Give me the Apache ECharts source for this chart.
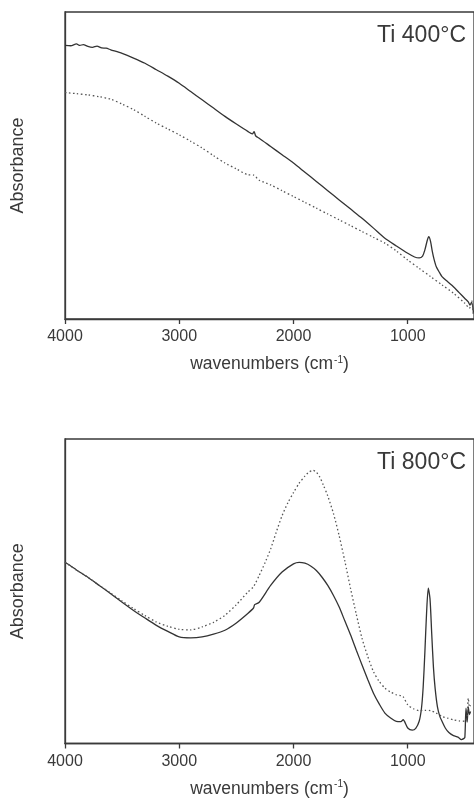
<!DOCTYPE html>
<html><head><meta charset="utf-8">
<script src="https://cdn.jsdelivr.net/npm/echarts@6/dist/echarts.min.js"></script>
<style>html,body{margin:0;padding:0;background:#fff}#c{width:474px;height:799px}</style>
</head><body><div id="c"></div>
<script>
// Top panel (Ti 400°C)
const topSolidWn = [4000,3950,3900,3870,3840,3800,3760,3720,3680,3640,3600,3500,3400,3300,3200,3100,3000,2900,2800,2700,2600,2500,2400,2360,2345,2330,2300,2200,2100,2000,1900,1800,1700,1600,1500,1400,1300,1200,1100,1000,940,900,870,850,830,816,800,785,770,750,720,700,650,600,550,500,470,455,440,425];
const topSolidVal = [89.1,89.0,89.6,89.1,89.4,88.8,88.5,88.9,88.3,88.2,87.7,86.5,85.0,83.3,81.2,79.1,76.8,74.1,71.4,68.7,66.0,63.5,61.1,60.3,61.0,59.6,58.9,56.2,53.5,50.8,47.8,44.8,41.8,38.8,35.8,32.8,29.6,26.3,23.8,21.4,20.2,19.9,20.5,22.5,25.5,26.8,25.2,22.0,19.5,17.0,15.0,13.8,12.1,10.5,8.6,6.7,5.6,4.5,5.5,2.0];
const topDotWn = [4000,3900,3800,3700,3600,3500,3400,3300,3200,3100,3000,2900,2800,2700,2600,2500,2400,2350,2300,2200,2100,2000,1900,1800,1700,1600,1500,1400,1300,1200,1100,1000,900,800,700,600,500,460,440,425];
const topDotVal = [73.8,73.4,73.0,72.4,71.6,70.0,68.2,66.0,63.8,61.9,60.0,57.9,55.7,53.2,50.8,48.9,47.0,46.9,45.2,43.7,41.8,39.9,38.0,36.1,34.2,32.3,30.4,28.5,26.6,24.7,22.2,19.2,16.5,13.8,11.1,8.4,5.1,3.5,6.0,1.0];

// Bottom panel (Ti 800°C)
const botSolidWn = [4000,3950,3900,3800,3700,3600,3500,3400,3300,3200,3100,3000,2900,2800,2700,2600,2500,2400,2350,2340,2300,2200,2100,2000,1950,1900,1850,1800,1750,1700,1650,1600,1550,1500,1450,1400,1350,1300,1250,1200,1150,1100,1060,1040,1000,960,930,900,880,865,850,835,820,805,790,775,760,740,720,700,670,640,600,560,530,510,500,490,480,470,460,450];
const botSolidVal = [59.5,58.3,57.0,54.6,51.9,49.2,46.4,43.7,41.2,38.8,36.8,35.0,34.7,35.0,35.9,37.2,39.6,42.7,44.5,45.6,46.4,51.9,56.3,59.0,59.5,59.2,58.3,56.8,54.6,51.9,48.6,44.8,40.2,35.6,30.6,25.8,21.0,16.5,13.0,10.0,8.4,7.3,7.2,7.8,5.1,4.4,5.0,7.3,11.5,18.5,30.0,43.0,51.0,47.5,36.0,25.0,18.0,12.0,9.0,7.3,5.0,3.6,2.6,2.1,1.3,1.6,2.0,11.6,7.0,12.0,9.5,10.5];
const botDotWn = [4000,3900,3800,3700,3600,3500,3400,3300,3200,3100,3000,2900,2800,2700,2600,2500,2400,2350,2300,2250,2200,2150,2100,2050,2000,1950,1900,1870,1830,1800,1770,1740,1700,1650,1600,1550,1500,1450,1400,1350,1300,1250,1200,1150,1100,1060,1040,1000,950,900,850,800,750,700,650,600,550,500,480,470,460,450];
const botDotVal = [59.5,57.0,54.6,51.9,49.4,46.8,44.3,42.0,39.9,38.5,37.5,37.3,38.3,39.8,42.1,45.6,49.7,51.5,55.2,59.3,63.9,69.5,74.8,79.0,82.4,85.5,87.8,89.0,89.7,89.1,87.5,85.0,81.3,75.5,68.2,59.8,50.8,42.4,34.5,28.6,23.6,20.4,18.2,16.9,16.0,15.7,15.4,12.7,11.4,10.8,10.9,10.8,10.0,8.9,8.3,7.8,7.4,7.3,9.0,14.9,12.0,12.5];

const ticks = [1000,2000,3000,4000];
const xTitle = 'wavenumbers (cm{sup|-1})';
const yTitle = 'Absorbance';
const panelTitles = ['Ti 400°C','Ti 800°C'];

const FONT = 'Liberation Sans, Arial, sans-serif';
const INK = '#3a3a3a';
const pairs = (a,b)=>a.map((w,i)=>[w,b[i]]);

function xAxis(gi){
  return {
    type:'value', gridIndex:gi, inverse:true, min:420, max:4000,
    axisLine:{show:true,onZero:false,lineStyle:{color:INK,width:1.3}},
    axisTick:{show:true,inside:false,length:5,customValues:ticks,lineStyle:{color:INK,width:1.3}},
    axisLabel:{customValues:ticks,color:INK,fontFamily:FONT,fontSize:16,margin:10,formatter:v=>String(v)},
    splitLine:{show:false},
    name:xTitle, nameLocation:'middle', nameGap:36,
    nameTextStyle:{color:INK,fontFamily:FONT,fontSize:17.5,rich:{sup:{fontSize:10,verticalAlign:'top',color:INK,fontFamily:FONT,padding:[0,0,9,1]}}}
  };
}
function yAxis(gi){
  return {
    type:'value', gridIndex:gi, min:0, max:100,
    axisLine:{show:true,lineStyle:{color:INK,width:1.3}},
    axisTick:{show:false}, axisLabel:{show:false}, splitLine:{show:false},
    name:yTitle, nameLocation:'middle', nameGap:38, nameRotate:90,
    nameTextStyle:{color:INK,fontFamily:FONT,fontSize:18}
  };
}
function line(gi,data,type){
  return {type:'line',xAxisIndex:gi,yAxisIndex:gi,data:data,showSymbol:false,smooth:0.25,
    lineStyle:type==='solid'?{color:'#333',width:1.3,type:'solid'}:{color:'#555',width:1.3,type:[1.5,2.5]},
    silent:true,animation:false};
}

const chart = echarts.init(document.getElementById('c'),null,{renderer:'canvas'});
chart.setOption({
  backgroundColor:'#fff', animation:false,
  title:[
    {text:panelTitles[0],right:3,top:19,textStyle:{color:INK,fontFamily:FONT,fontSize:23,fontWeight:'normal'}},
    {text:panelTitles[1],right:3,top:446,textStyle:{color:INK,fontFamily:FONT,fontSize:23,fontWeight:'normal'}}
  ],
  grid:[
    {left:65,right:0,top:12,height:307,show:true,borderColor:INK,borderWidth:1.3,backgroundColor:'transparent'},
    {left:65,right:0,top:439,height:307,show:true,borderColor:INK,borderWidth:1.3,backgroundColor:'transparent'}
  ],
  xAxis:[xAxis(0),xAxis(1)],
  yAxis:[yAxis(0),yAxis(1)],
  series:[
    line(0,pairs(topSolidWn,topSolidVal),'solid'),
    line(0,pairs(topDotWn,topDotVal),'dotted'),
    line(1,pairs(botSolidWn,botSolidVal),'solid'),
    line(1,pairs(botDotWn,botDotVal),'dotted')
  ]
});
</script></body></html>
